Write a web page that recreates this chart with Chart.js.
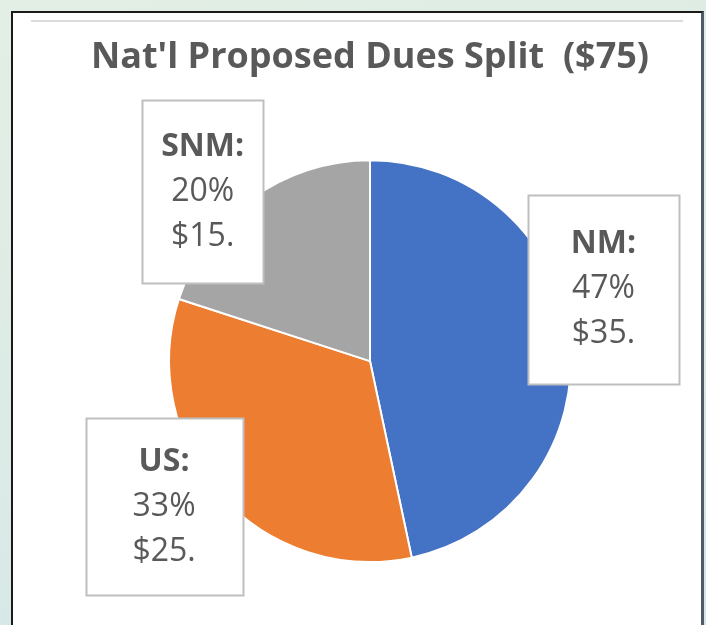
<!DOCTYPE html>
<html>
<head>
<meta charset="utf-8">
<script src="https://cdn.jsdelivr.net/npm/chart.js@4/dist/chart.umd.min.js"></script>
<style>
  html, body { margin: 0; padding: 0; }
  body {
    width: 706px; height: 625px; overflow: hidden; position: relative;
    background: linear-gradient(160deg, #e3efe4 0%, #dcebe6 50%, #d2e4ea 100%);
  }
  #frame {
    position: absolute; left: 11px; top: 11px; width: 688px; height: 640px;
    background: #fff; border: 2px solid #1a1a1a; border-right: 3px solid #4f5b66;
  }
  #rule {
    position: absolute; left: 31px; top: 20px; width: 652px; height: 2px; background: #dcdcdc;
  }
  #chart { position: absolute; left: 0; top: 0; }
</style>
</head>
<body>
<div id="frame"></div>
<div id="rule"></div>
<canvas id="chart" width="706" height="625"></canvas>
<script>
// data
const categories = ['NM', 'US', 'SNM'];
const dues = [35, 25, 15];            // dollars out of $75
const percents = ['47%', '33%', '20%'];
const sliceColors = ['#4472C4', '#ED7D31', '#A5A5A5'];
const chartTitle = "Nat'l Proposed Dues Split  ($75)";

const textColor = '#595959';

// callout boxes, offsets in units of the pie radius
const calloutBoxes = {
  id: 'calloutBoxes',
  afterDatasetsDraw(chart, args, opts) {
    const ctx = chart.ctx;
    const meta = chart.getDatasetMeta(0);
    meta.data.forEach((arc, i) => {
      const place = opts.places[i];
      const r = arc.outerRadius;
      const cx = arc.x + place.dx * r;
      const cy = arc.y + place.dy * r;
      const x0 = Math.round(cx - place.w / 2) + 0.5;
      const y0 = Math.round(cy - place.h / 2) + 0.5;
      ctx.save();
      ctx.fillStyle = '#ffffff';
      ctx.fillRect(x0, y0, place.w, place.h);
      ctx.strokeStyle = '#bfbfbf';
      ctx.lineWidth = 2;
      ctx.strokeRect(x0, y0, place.w, place.h);

      const lines = [
        {text: categories[i] + ':', font: 'bold 32px "Open Sans"'},
        {text: percents[i], font: '32px "Open Sans"'},
        {text: '$' + dues[i] + '.', font: '32px "Open Sans"'}
      ];
      const lh = 45;
      ctx.fillStyle = textColor;
      ctx.textAlign = 'center';
      ctx.textBaseline = 'middle';
      lines.forEach((ln, k) => {
        ctx.font = ln.font;
        ctx.fillText(ln.text, cx, cy + (k - 1) * lh);
      });
      ctx.restore();
    });
  }
};

new Chart(document.getElementById('chart'), {
  type: 'pie',
  data: {
    labels: categories,
    datasets: [{
      data: dues,
      backgroundColor: sliceColors,
      borderColor: '#ffffff',
      borderWidth: 2
    }]
  },
  options: {
    responsive: false,
    animation: false,
    layout: { padding: { left: 34, right: 0, top: 0, bottom: 62 } },
    plugins: {
      legend: { display: false },
      tooltip: { enabled: false },
      title: {
        display: true,
        text: chartTitle,
        color: textColor,
        font: { family: '"Open Sans"', size: 36, weight: 'bold', lineHeight: 1.2 },
        padding: { top: 36, bottom: 80 }
      },
      calloutBoxes: {
        places: [
          {dx: 1.162, dy: -0.358, w: 151, h: 189},
          {dx: -1.025, dy: 0.724, w: 157, h: 177},
          {dx: -0.833, dy: -0.843, w: 121, h: 183}
        ]
      }
    }
  },
  plugins: [calloutBoxes]
});
</script>
</body>
</html>
